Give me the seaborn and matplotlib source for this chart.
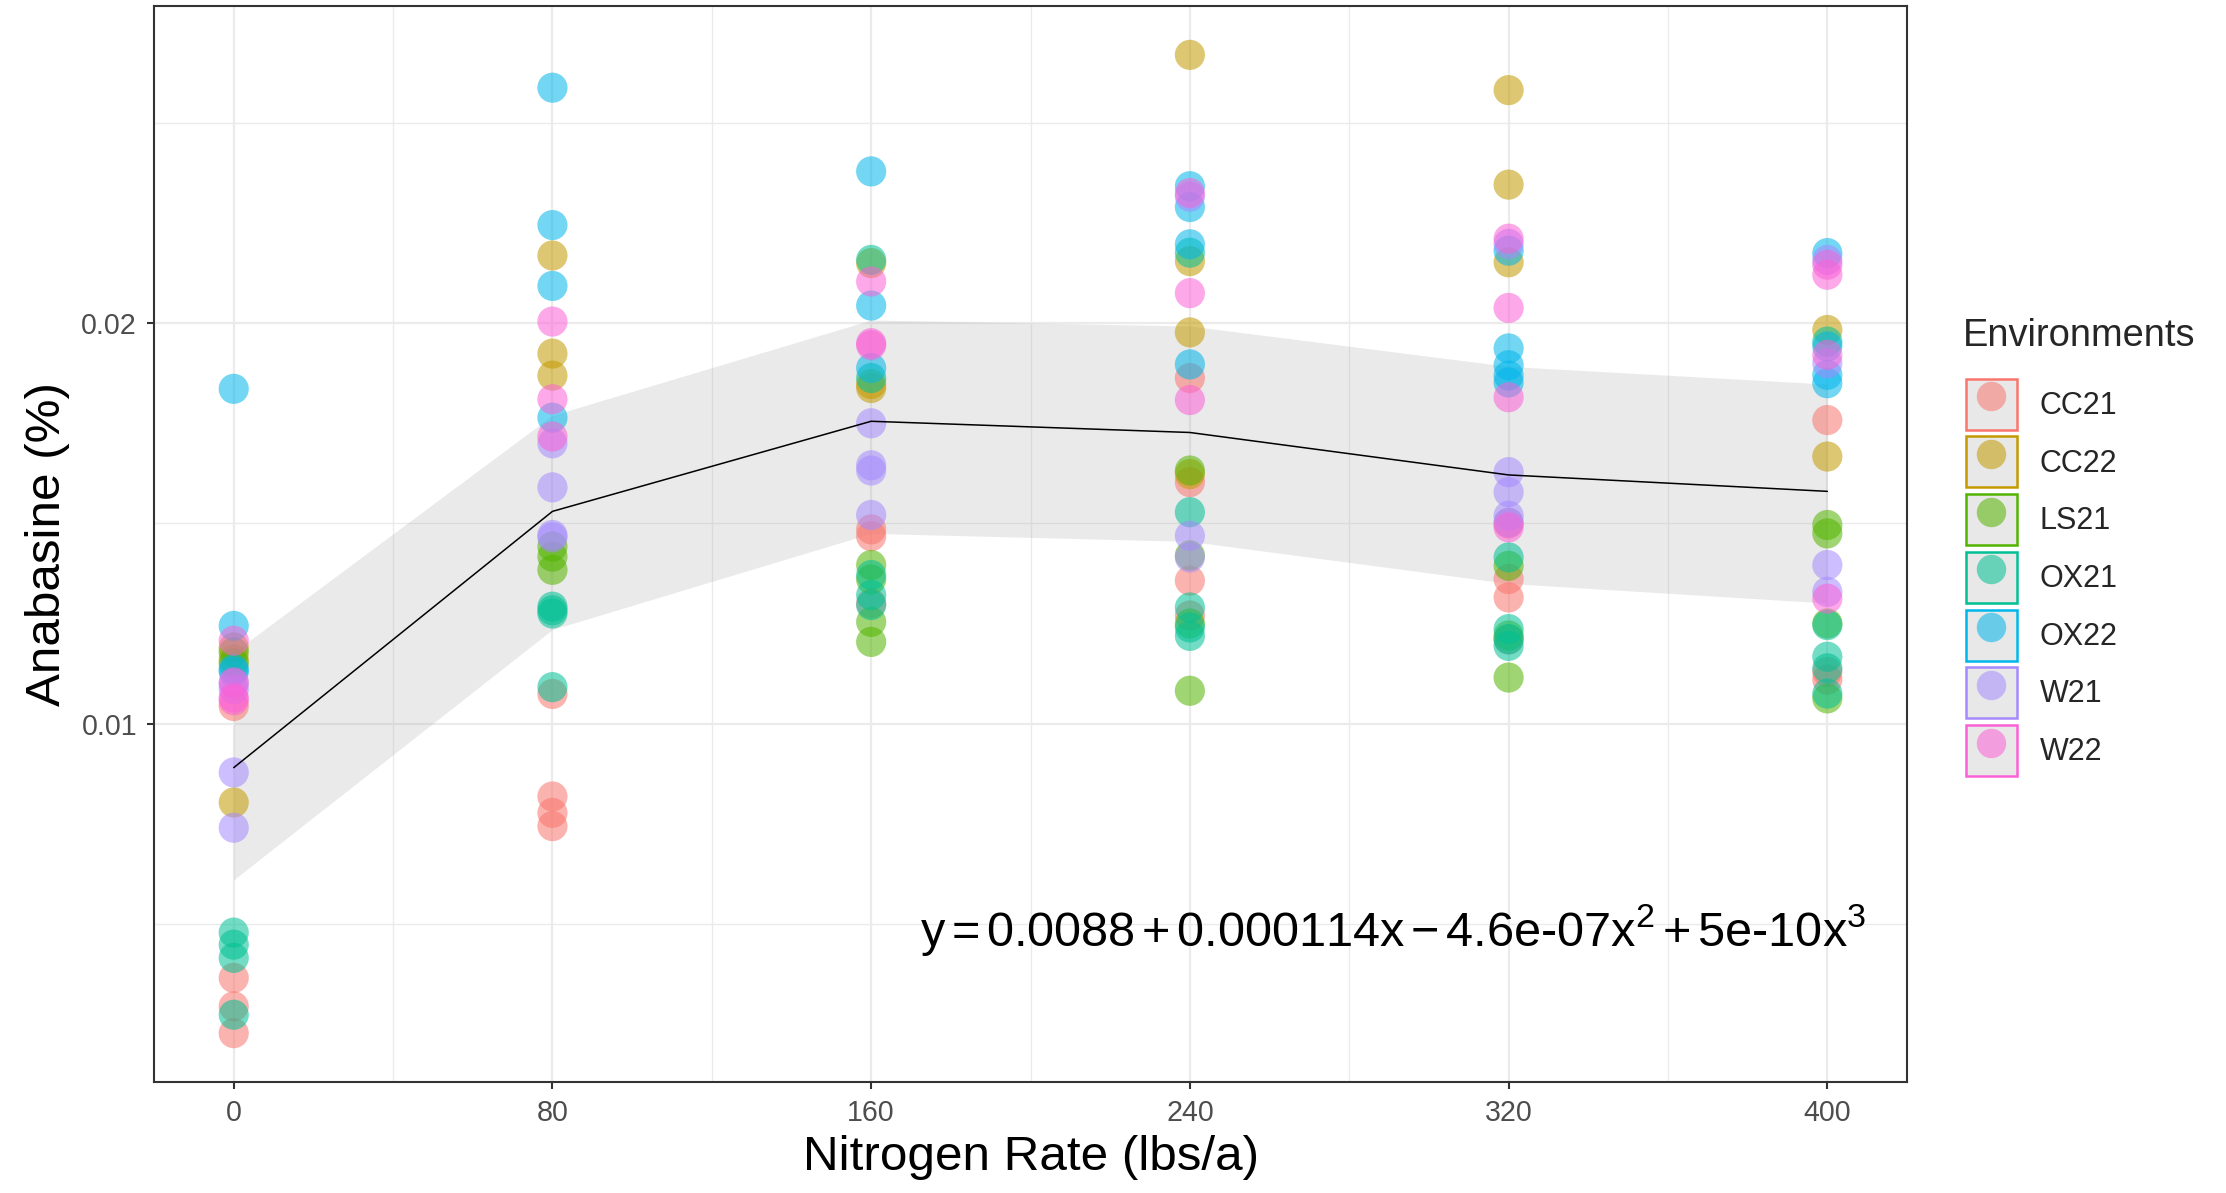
import numpy as np
import pandas as pd
import matplotlib
matplotlib.use("Agg")
import matplotlib.pyplot as plt
from matplotlib.patches import Patch
from matplotlib.lines import Line2D
from matplotlib.ticker import MultipleLocator
import seaborn as sns

# ---- data (Anabasine %, per N rate) ----
RATES = [0, 80, 160, 240, 320, 400]
ENVS = ["CC21", "CC22", "LS21", "OX21", "OX22", "W21", "W22"]
COLORS = ["#F8766D", "#C49A00", "#53B400", "#00C094", "#00B6EB", "#A58AFF", "#FB61D7"]

CC21 = [[0.01044, 0.00365, 0.00294, 0.00227],
        [0.01074, 0.00818, 0.00777, 0.00744],
        [0.01485, 0.01468, 0.01300],
        [0.01863, 0.01603, 0.01357, 0.01270],
        [0.01500, 0.01361, 0.01315, 0.01210],
        [0.01758, 0.01129, 0.01110]]
CC22 = [[0.01190, 0.01160, 0.00803],
        [0.02169, 0.01924, 0.01869],
        [0.02150, 0.01848, 0.01838],
        [0.02670, 0.02155, 0.01977, 0.01623],
        [0.02582, 0.02346, 0.02152],
        [0.01983, 0.01667]]
LS21 = [[0.01178, 0.01150],
        [0.01442, 0.01417, 0.01384],
        [0.01396, 0.01360, 0.01254, 0.01204],
        [0.01632, 0.01420, 0.01250, 0.01082],
        [0.01394, 0.01220, 0.01115],
        [0.01496, 0.01475, 0.01250, 0.01063]]
OX21 = [[0.00478, 0.00448, 0.00415, 0.00273],
        [0.01292, 0.01283, 0.01275, 0.01091],
        [0.02158, 0.01863, 0.01371, 0.01321, 0.01296],
        [0.02176, 0.01528, 0.01290, 0.01240, 0.01219],
        [0.01415, 0.01236, 0.01211, 0.01194],
        [0.01954, 0.01246, 0.01167, 0.01138, 0.01075]]
OX22 = [[0.01836, 0.01244, 0.01136, 0.01130],
        [0.02588, 0.02245, 0.02093, 0.01764],
        [0.02379, 0.02044, 0.01888],
        [0.02342, 0.02290, 0.02197, 0.01897],
        [0.02181, 0.01937, 0.01895, 0.01869, 0.01852],
        [0.02175, 0.01942, 0.01871, 0.01850]]
W21 = [[0.01100, 0.01086, 0.00878, 0.00740],
       [0.01700, 0.01590, 0.01471, 0.01465],
       [0.01750, 0.01645, 0.01632, 0.01521],
       [0.02316, 0.01469, 0.01415],
       [0.02198, 0.01628, 0.01578, 0.01519, 0.01502],
       [0.02158, 0.01900, 0.01396, 0.01329]]
W22 = [[0.01207, 0.01103, 0.01065, 0.01058],
       [0.02004, 0.01810, 0.01717],
       [0.02104, 0.01950, 0.01945],
       [0.02325, 0.02075, 0.01808],
       [0.02211, 0.02038, 0.01815, 0.01490],
       [0.02146, 0.02121, 0.01921, 0.01312]]

# fitted line and confidence band as drawn in the reference
FIT_X = [0, 80, 160, 240, 320, 400]
FIT_MID = [0.00890, 0.01530, 0.01755, 0.01727, 0.01621, 0.01580]
FIT_LO = [0.00610, 0.01235, 0.01475, 0.01455, 0.01350, 0.01301]
FIT_HI = [0.01178, 0.01770, 0.02008, 0.01993, 0.01892, 0.01848]

SP = r"$\,$"
EQUATION = (f"y{SP}={SP}0.0088{SP}+{SP}0.000114x{SP}\u2212{SP}4.6e-07x$^{{2}}$"
            f"{SP}+{SP}5e-10x$^{{3}}$")

rows = []
for env, vals in zip(ENVS, [CC21, CC22, LS21, OX21, OX22, W21, W22]):
    for rate, ys in zip(RATES, vals):
        for y in ys:
            rows.append((env, rate, y))
df = pd.DataFrame(rows, columns=["Environment", "N", "Anabasine"])
fit = pd.DataFrame({"N": FIT_X, "mid": FIT_MID, "lo": FIT_LO, "hi": FIT_HI})

sns.set_theme(style="white")
plt.rcParams["font.family"] = ["Liberation Sans", "DejaVu Sans"]
plt.rcParams["mathtext.fontset"] = "custom"
plt.rcParams["mathtext.rm"] = "Liberation Sans"
plt.rcParams["mathtext.it"] = "Liberation Sans"

fig = plt.figure(figsize=(11.13, 5.965), dpi=200)
ax = fig.add_axes([0.0692, 0.093, 0.7875, 0.902])

ax.fill_between(fit["N"], fit["lo"], fit["hi"], color="#999999", alpha=0.2,
                linewidth=0, zorder=1)
sns.scatterplot(data=df, x="N", y="Anabasine", hue="Environment",
                hue_order=ENVS, palette=COLORS, s=118, alpha=0.55,
                linewidth=0, legend=False, ax=ax, zorder=2)
sns.lineplot(data=fit, x="N", y="mid", color="black", linewidth=0.55,
             ax=ax, zorder=3)

# ggplot-like 5% expansion
xr = max(RATES) - min(RATES)
ax.set_xlim(min(RATES) - 0.05 * xr, max(RATES) + 0.05 * xr)
ymin, ymax = df["Anabasine"].min(), df["Anabasine"].max()
yr = ymax - ymin
ax.set_ylim(ymin - 0.05 * yr, ymax + 0.05 * yr)

ax.set_xticks(RATES)
ax.set_xticklabels([str(r) for r in RATES])
ax.xaxis.set_minor_locator(MultipleLocator(40))
ax.set_yticks([0.01, 0.02])
ax.set_yticklabels(["0.01", "0.02"])
ax.yaxis.set_minor_locator(MultipleLocator(0.005))

ax.grid(which="major", color="#EBEBEB", linewidth=0.8, zorder=0)
ax.grid(which="minor", color="#EBEBEB", linewidth=0.5, zorder=0)
ax.set_axisbelow(True)
for sp in ax.spines.values():
    sp.set_color("#333333")
    sp.set_linewidth(0.75)
    sp.set_visible(True)

ax.tick_params(which="major", length=2.6, width=0.75, color="#333333",
               labelsize=10.3, labelcolor="#4D4D4D", pad=3.5,
               bottom=True, left=True)
ax.tick_params(which="minor", length=0)

ax.set_xlabel("Nitrogen Rate (lbs/a)", fontsize=17.8, color="black", labelpad=3)
ax.set_ylabel("Anabasine (%)", fontsize=17.8, color="black", labelpad=4)

ax.text(0.437, 0.141, EQUATION, transform=ax.transAxes, fontsize=17.5,
        ha="left", va="center", color="black")

# legend
fig.text(0.882, 0.718, "Environments", fontsize=13.7, ha="left", va="center")
handles = [(Patch(facecolor="#E8E8E8", edgecolor=c, linewidth=0.9),
            Line2D([], [], marker="o", linestyle="", color=c, alpha=0.55,
                   markersize=10.6, markeredgewidth=0))
           for c in COLORS]
fig.legend(handles, ENVS, loc="upper left", bbox_to_anchor=(0.883, 0.6825),
           frameon=False, fontsize=11, handlelength=1.67, handleheight=2.19,
           labelspacing=0.22, handletextpad=0.75, borderpad=0, borderaxespad=0)

fig.savefig("out.png", dpi=200)
plt.close(fig)
